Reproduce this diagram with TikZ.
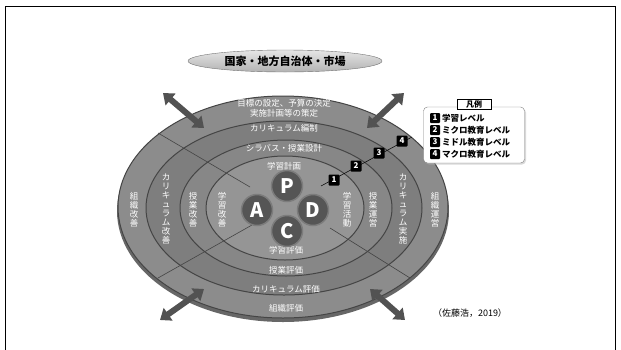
\documentclass[tikz,border=0pt]{standalone}
\usepackage{fontspec}
\setmainfont{Noto Sans CJK JP}
\usetikzlibrary{arrows.meta,shadows,shapes.geometric}
\definecolor{baseg}{HTML}{676767}
\definecolor{ringD}{HTML}{8C8C8C}
\definecolor{ringC}{HTML}{7E7E7E}
\definecolor{ringB}{HTML}{878787}
\definecolor{ringA}{HTML}{959595}
\definecolor{linedark}{HTML}{454545}
\definecolor{arrowg}{HTML}{525252}
\definecolor{circfill}{HTML}{555555}
\definecolor{circrim}{HTML}{7C7C7C}
\begin{document}
\begin{tikzpicture}[x=1pt,y=-1pt,
  ringtxt/.style={text=white,font=\fontsize{8.5}{9}\selectfont,inner sep=0.5pt},
  vert/.style={ringtxt,align=center},
  ringline/.style={draw=linedark,line width=1pt},
  bigarrow/.style={line width=6pt,draw=arrowg,{Triangle[width=15pt,length=10pt]}-{Triangle[width=15pt,length=10pt]}},
  numbox/.style={fill=black,text=white,font=\fontsize{8}{8}\selectfont\bfseries,minimum size=11pt,inner sep=0pt,rounded corners=1pt},
  pdca/.style={circle,fill=circfill,draw=circrim,line width=1.5pt,minimum size=31pt,inner sep=0pt,text=white,font=\fontsize{20}{20}\selectfont\bfseries},
  divider/.style={draw=linedark,line width=0.6pt},
  legtxt/.style={anchor=west,font=\fontsize{8.5}{9}\selectfont\bfseries,inner sep=0pt}
]
\useasboundingbox (0,0) rectangle (621,349);
% frame
\draw[line width=1pt] (5.5,360) -- (5.5,6) -- (615,6) -- (615,360);

% top label
\node[ellipse,top color=gray!20,bottom color=gray!60,draw=gray!90!black,minimum width=194pt,minimum height=22pt,inner sep=0pt,
  font=\fontsize{11}{11}\selectfont\bfseries] (top) at (285,61) {国家・地方自治体・市場};

% rings
\fill[baseg] (283,211) ellipse [x radius=166pt, y radius=111pt];
\filldraw[ringD,ringline] (283,207) ellipse [x radius=165pt, y radius=111pt];
\filldraw[ringC,ringline] (284,208) ellipse [x radius=138pt, y radius=87pt];
\filldraw[ringB,ringline] (286,208) ellipse [x radius=106pt, y radius=68pt];
\filldraw[ringA,ringline] (285,208) ellipse [x radius=79pt, y radius=52pt];

% dividers
\coordinate (d1a) at (158,133); \coordinate (d1b) at (250,187);
\coordinate (d2a) at (252,225); \coordinate (d2b) at (158,278);
\coordinate (d3a) at (330,228); \coordinate (d3b) at (410,278);
\draw[divider] (d1a) -- (d1b);
\draw[divider] (d2a) -- (d2b);
\draw[divider] (d3a) -- (d3b);

% top texts
\node[ringtxt] (t4a) at (284,103) {目標の設定、予算の決定};
\node[ringtxt] (t4b) at (284,113) {実施計画等の策定};
\node[ringtxt] (t3) at (284,128) {カリキュラム編制};
\node[ringtxt] (t2) at (284,148) {シラバス・授業設計};
\node[ringtxt] (t1) at (284,166) {学習計画};
% bottom texts
\node[ringtxt] (b1) at (286,250) {学習評価};
\node[ringtxt] (b2) at (286,270) {授業評価};
\node[ringtxt] (b3) at (286,289) {カリキュラム評価};
\node[ringtxt] (b4) at (286,308) {組織評価};
% left texts
\node[vert] (l4) at (134,210) {組\\織\\改\\善};
\node[vert] (l3) at (166,209) {カ\\リ\\キ\\ュ\\ラ\\ム\\改\\善};
\node[vert] (l2) at (193,210) {授\\業\\改\\善};
\node[vert] (l1) at (222,210) {学\\習\\改\\善};
% right texts
\node[vert] (r1) at (347,210) {学\\習\\活\\動};
\node[vert] (r2) at (373,210) {授\\業\\運\\営};
\node[vert] (r3) at (403,209) {カ\\リ\\キ\\ュ\\ラ\\ム\\実\\施};
\node[vert] (r4) at (435,210) {組\\織\\運\\営};

% PDCA
\node[pdca] (A) at (257,210) {A};
\node[pdca] (D) at (313,210) {D};
\node[pdca] (P) at (287,186) {P};
\node[pdca] (C) at (287,231) {C};

% big arrows
\coordinate (a1o) at (163,93);  \coordinate (a1i) at (204,128);
\coordinate (a2o) at (404,93);  \coordinate (a2i) at (367,128);
\coordinate (a3o) at (160,320); \coordinate (a3i) at (204,289);
\coordinate (a4o) at (405,320); \coordinate (a4i) at (370,289);
\draw[bigarrow] (a1o) -- (a1i);
\draw[bigarrow] (a2o) -- (a2i);
\draw[bigarrow] (a3o) -- (a3i);
\draw[bigarrow] (a4o) -- (a4i);

% level markers
\coordinate (m0) at (321,186);
\coordinate (m5) at (412,137);
\draw[draw=black,line width=0.5pt] (m0) -- (m5);
\node[numbox] (m1) at (334,180) {1};
\node[numbox] (m2) at (356,166) {2};
\node[numbox] (m3) at (379,153) {3};
\node[numbox] (m4) at (402,141) {4};

% legend
\node[draw=gray,fill=white,rounded corners=4pt,drop shadow={shadow xshift=1.5pt,shadow yshift=-1.5pt,fill=gray!60},
  minimum width=101pt,minimum height=56pt] (leg) at (474,135) {};
\node[draw=black,fill=white,minimum width=34pt,minimum height=10pt,inner sep=0pt,
  font=\fontsize{8}{8}\selectfont\bfseries] (legt) at (474,104) {凡例};
\node[numbox,minimum size=10pt] (k1) at (435,118) {1};
\node[numbox,minimum size=10pt] (k2) at (435,130) {2};
\node[numbox,minimum size=10pt] (k3) at (435,142) {3};
\node[numbox,minimum size=10pt] (k4) at (435,154) {4};
\node[legtxt] (k1t) at (442,118) {学習レベル};
\node[legtxt] (k2t) at (442,130) {ミクロ教育レベル};
\node[legtxt] (k3t) at (442,142) {ミドル教育レベル};
\node[legtxt] (k4t) at (442,154) {マクロ教育レベル};

% source
\node[font=\fontsize{9}{9}\selectfont,inner sep=1pt] (src) at (470,313) {（佐藤浩，2019）};
\end{tikzpicture}
\end{document}
